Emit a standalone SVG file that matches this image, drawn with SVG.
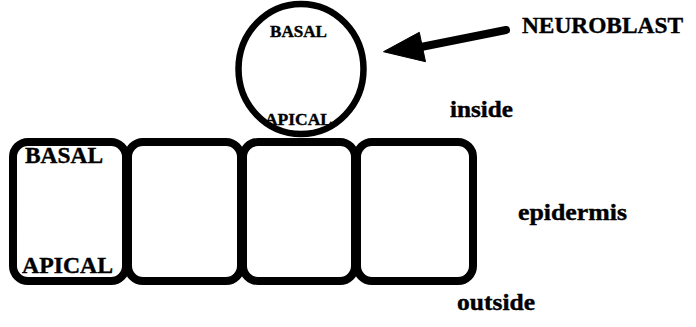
<svg xmlns="http://www.w3.org/2000/svg" width="696" height="327" viewBox="0 0 696 327">
  <style>
    .cell { fill: #fff; stroke: #000; stroke-width: 8; }
    .blast { fill: #fff; stroke: #000; stroke-width: 6.5; }
    .lbl { font-family: "Liberation Serif", "Times New Roman", serif; font-weight: bold; fill: #000; stroke: #000; stroke-width: 0.4; }
    .cap-l { font-size: 23.4px; }
    .cap-s { font-size: 17.2px; }
    .low { font-size: 23px; }
    .arrow { stroke: #000; stroke-width: 8; stroke-linecap: round; fill: none; }
    .head { fill: #000; stroke: #000; stroke-width: 1; stroke-linejoin: round; }
  </style>

  <!-- epidermal cell layer -->
  <g id="cell1">
    <rect class="cell" x="13" y="142" width="113" height="139" rx="15"/>
    <text class="lbl cap-l" x="25" y="163" textLength="78" lengthAdjust="spacingAndGlyphs">BASAL</text>
    <text class="lbl cap-l" x="22" y="273" textLength="91" lengthAdjust="spacingAndGlyphs">APICAL</text>
  </g>
  <g id="cell2">
    <rect class="cell" x="128" y="142" width="113" height="139" rx="15"/>
  </g>
  <g id="cell3">
    <rect class="cell" x="243" y="142" width="112" height="139" rx="15"/>
  </g>
  <g id="cell4">
    <rect class="cell" x="357" y="142" width="116" height="139" rx="15"/>
  </g>

  <!-- neuroblast sitting on the inner face -->
  <g id="neuroblast">
    <ellipse class="blast" cx="301" cy="69" rx="62.5" ry="65"/>
    <text class="lbl cap-s" x="270" y="36.5" textLength="57" lengthAdjust="spacingAndGlyphs">BASAL</text>
    <text class="lbl cap-s" x="265" y="124.5" textLength="67" lengthAdjust="spacingAndGlyphs">APICAL</text>
  </g>

  <!-- side labels -->
  <g id="label-neuroblast">
    <text class="lbl cap-l" x="522" y="33" textLength="161" lengthAdjust="spacingAndGlyphs">NEUROBLAST</text>
  </g>
  <g id="label-inside">
    <text class="lbl low" x="450" y="117" textLength="63" lengthAdjust="spacingAndGlyphs">inside</text>
  </g>
  <g id="label-epidermis">
    <text class="lbl low" x="518" y="220" textLength="109" lengthAdjust="spacingAndGlyphs">epidermis</text>
  </g>
  <g id="label-outside">
    <text class="lbl low" x="457" y="310" textLength="78" lengthAdjust="spacingAndGlyphs">outside</text>
  </g>

  <!-- pointer from label to neuroblast -->
  <g id="connectors">
    <path class="arrow" d="M506,30 L416,48"/>
    <polygon class="head" points="383.5,51.7 419.3,32.3 425.5,61.7"/>
  </g>
</svg>
